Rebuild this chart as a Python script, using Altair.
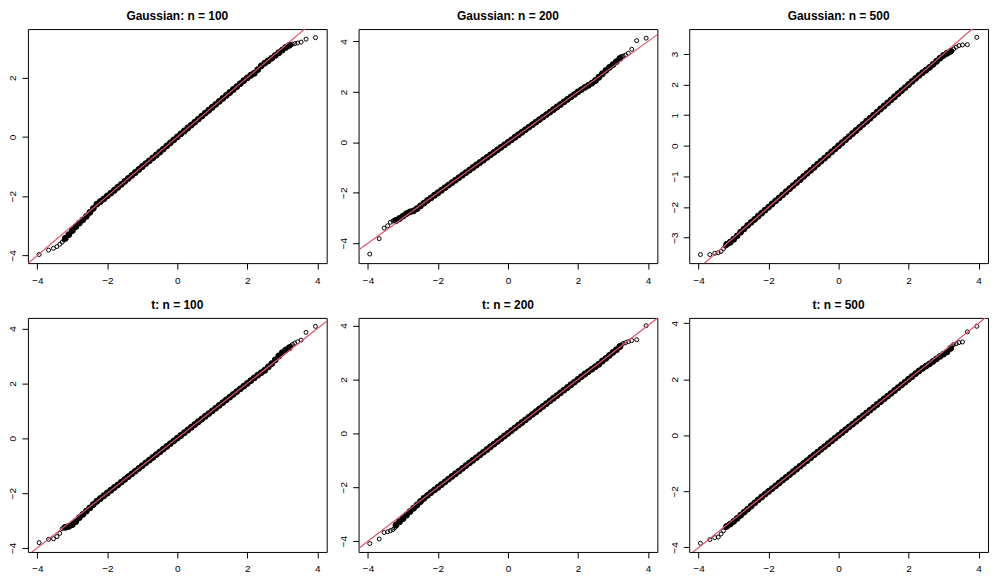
import altair as alt
import pandas as pd

# theoretical quantiles (shared x positions)
band_q = [-3.2, -3.1, -3.0, -2.9, -2.8, -2.7, -2.6, -2.5, -2.4, -2.3, -2.2, -2.1, -2.0,
          -1.9, -1.8, -1.7, -1.6, -1.5, -1.4, -1.3, -1.2, -1.1, -1.0,
          -0.9, -0.8, -0.7, -0.6, -0.5, -0.4, -0.3, -0.2, -0.1, 0.0,
          0.1, 0.2, 0.3, 0.4, 0.5, 0.6, 0.7, 0.8, 0.9,
          1.0, 1.1, 1.2, 1.3, 1.4, 1.5, 1.6, 1.7, 1.8, 1.9,
          2.0, 2.1, 2.2, 2.3, 2.4, 2.5, 2.6, 2.7, 2.8, 2.9, 3.0, 3.1, 3.2]
tail_lo_q = [-3.95, -3.68, -3.54, -3.44, -3.36, -3.29, -3.24]
tail_hi_q = [3.24, 3.29, 3.36, 3.44, 3.54, 3.68, 3.95]

titles = ["Gaussian: n = 100", "Gaussian: n = 200", "Gaussian: n = 500",
          "t: n = 100", "t: n = 200", "t: n = 500"]

# sample quantiles
g100_lo = [-3.97, -3.82, -3.76, -3.70, -3.62, -3.55, -3.48]
g100_band = [-3.42, -3.30, -3.16, -3.03, -2.91, -2.80, -2.68, -2.55, -2.41, -2.27, -2.18, -2.09, -1.99,
             -1.90, -1.80, -1.70, -1.60, -1.50, -1.40, -1.30, -1.20, -1.10, -1.00,
             -0.90, -0.81, -0.71, -0.61, -0.51, -0.41, -0.30, -0.20, -0.10, 0.00,
             0.10, 0.20, 0.30, 0.40, 0.50, 0.60, 0.70, 0.80, 0.90,
             1.00, 1.10, 1.20, 1.30, 1.40, 1.50, 1.60, 1.70, 1.80, 1.90,
             1.99, 2.08, 2.15, 2.27, 2.40, 2.49, 2.57, 2.66, 2.75, 2.84, 2.93, 3.02, 3.09]
g100_hi = [3.11, 3.13, 3.15, 3.17, 3.20, 3.30, 3.35]

g200_lo = [-4.43, -3.82, -3.40, -3.31, -3.17, -3.12, -3.08]
g200_band = [-3.10, -3.02, -2.93, -2.83, -2.76, -2.72, -2.63, -2.52, -2.41, -2.30, -2.20, -2.10, -2.00,
             -1.90, -1.80, -1.70, -1.60, -1.50, -1.40, -1.30, -1.20, -1.10, -1.00,
             -0.90, -0.80, -0.70, -0.60, -0.50, -0.40, -0.30, -0.20, -0.10, 0.00,
             0.10, 0.20, 0.30, 0.40, 0.50, 0.60, 0.70, 0.80, 0.90,
             1.00, 1.10, 1.20, 1.30, 1.40, 1.50, 1.60, 1.70, 1.80, 1.90,
             2.00, 2.09, 2.18, 2.26, 2.35, 2.45, 2.58, 2.72, 2.85, 2.97, 3.08, 3.20, 3.33]
g200_hi = [3.40, 3.42, 3.46, 3.53, 3.69, 4.03, 4.13]

g500_lo = [-3.55, -3.55, -3.51, -3.49, -3.45, -3.36, -3.28]
g500_band = [-3.22, -3.15, -3.05, -2.94, -2.82, -2.71, -2.60, -2.50, -2.40, -2.30, -2.20, -2.10, -2.00,
             -1.90, -1.80, -1.70, -1.60, -1.50, -1.40, -1.30, -1.20, -1.10, -1.00,
             -0.90, -0.80, -0.70, -0.60, -0.50, -0.40, -0.30, -0.20, -0.10, 0.00,
             0.10, 0.20, 0.30, 0.40, 0.50, 0.60, 0.70, 0.80, 0.90,
             1.00, 1.10, 1.20, 1.30, 1.40, 1.50, 1.60, 1.70, 1.80, 1.90,
             2.00, 2.10, 2.20, 2.30, 2.39, 2.47, 2.56, 2.66, 2.76, 2.86, 2.95, 3.02, 3.08]
g500_hi = [3.10, 3.16, 3.22, 3.27, 3.29, 3.30, 3.54]

t100_lo = [-3.81, -3.69, -3.67, -3.59, -3.47, -3.30, -3.27]
t100_band = [-3.25, -3.22, -3.15, -3.04, -2.90, -2.78, -2.66, -2.54, -2.42, -2.30, -2.20, -2.10, -2.00,
             -1.90, -1.80, -1.70, -1.60, -1.50, -1.40, -1.30, -1.20, -1.10, -1.00,
             -0.90, -0.80, -0.70, -0.60, -0.50, -0.40, -0.30, -0.20, -0.10, 0.00,
             0.10, 0.20, 0.30, 0.40, 0.50, 0.60, 0.70, 0.80, 0.90,
             1.00, 1.10, 1.20, 1.30, 1.40, 1.50, 1.60, 1.70, 1.80, 1.90,
             2.00, 2.10, 2.20, 2.30, 2.39, 2.48, 2.60, 2.72, 2.86, 3.00, 3.12, 3.22, 3.30]
t100_hi = [3.36, 3.42, 3.47, 3.52, 3.58, 3.86, 4.08]

t200_lo = [-4.09, -3.92, -3.68, -3.65, -3.61, -3.57, -3.51]
t200_band = [-3.40, -3.28, -3.16, -3.03, -2.90, -2.78, -2.66, -2.53, -2.41, -2.30, -2.20, -2.10, -2.00,
             -1.90, -1.80, -1.70, -1.60, -1.50, -1.40, -1.30, -1.20, -1.10, -1.00,
             -0.90, -0.80, -0.70, -0.60, -0.50, -0.40, -0.30, -0.20, -0.10, 0.00,
             0.10, 0.20, 0.30, 0.40, 0.50, 0.60, 0.70, 0.80, 0.90,
             1.00, 1.10, 1.20, 1.30, 1.40, 1.50, 1.60, 1.70, 1.80, 1.90,
             2.00, 2.10, 2.20, 2.29, 2.38, 2.47, 2.56, 2.68, 2.78, 2.89, 3.00, 3.10, 3.22]
t200_hi = [3.28, 3.33, 3.36, 3.40, 3.44, 3.47, 3.99]

t500_lo = [-3.85, -3.72, -3.65, -3.63, -3.52, -3.40, -3.30]
t500_band = [-3.25, -3.17, -3.07, -2.96, -2.85, -2.74, -2.63, -2.52, -2.41, -2.30, -2.20, -2.10, -2.00,
             -1.90, -1.80, -1.70, -1.60, -1.50, -1.40, -1.30, -1.20, -1.10, -1.00,
             -0.90, -0.80, -0.70, -0.60, -0.50, -0.40, -0.30, -0.20, -0.10, 0.00,
             0.10, 0.20, 0.30, 0.40, 0.50, 0.60, 0.70, 0.80, 0.90,
             1.00, 1.10, 1.20, 1.30, 1.40, 1.50, 1.60, 1.70, 1.80, 1.90,
             2.00, 2.10, 2.20, 2.30, 2.39, 2.47, 2.55, 2.64, 2.73, 2.82, 2.90, 2.98, 3.10]
t500_hi = [3.18, 3.24, 3.27, 3.31, 3.33, 3.69, 3.89]

x_ticks = [-4, -2, 0, 2, 4]
y_ticks = [[-4, -2, 0, 2], [-4, -2, 0, 2, 4], [-3, -2, -1, 0, 1, 2, 3],
           [-4, -2, 0, 2, 4], [-4, -2, 0, 2, 4], [-4, -2, 0, 2, 4]]
x_domain = [-4.27, 4.27]
y_domains = [[-4.26, 3.64], [-4.79, 4.49], [-3.83, 3.81],
             [-4.15, 4.39], [-4.40, 4.28], [-4.16, 4.19]]

# reference line y = intercept + slope * x
line_intercept = 0.0
line_slope = 1.0

LINE_RED = "#DF536B"
FONT = "Liberation Sans"
W, H = 300, 235

los = [g100_lo, g200_lo, g500_lo, t100_lo, t200_lo, t500_lo]
bands = [g100_band, g200_band, g500_band, t100_band, t200_band, t500_band]
his = [g100_hi, g200_hi, g500_hi, t100_hi, t200_hi, t500_hi]


def panel(i):
    assert len(bands[i]) == len(band_q)
    band_df = pd.DataFrame({"q": band_q, "s": bands[i]})
    tail_df = pd.DataFrame({"q": tail_lo_q + tail_hi_q, "s": los[i] + his[i]})
    line_df = pd.DataFrame({"q": x_domain,
                            "s": [line_intercept + line_slope * v for v in x_domain]})
    x = alt.X("q:Q", scale=alt.Scale(domain=x_domain, nice=False, zero=False),
              axis=alt.Axis(values=x_ticks, title=None, labelPadding=6))
    y = alt.Y("s:Q", scale=alt.Scale(domain=y_domains[i], nice=False, zero=False),
              axis=alt.Axis(values=y_ticks[i], title=None, labelAngle=270,
                            labelAlign="center", labelBaseline="bottom",
                            labelPadding=4))
    band = alt.Chart(band_df).mark_point(shape="circle", filled=True, size=32,
                                         fill="black", stroke="black", strokeWidth=1.2,
                                         opacity=1, clip=True).encode(x=x, y=y)
    tails = alt.Chart(tail_df).mark_point(shape="circle", filled=False, size=16,
                                          stroke="black", strokeWidth=1,
                                          opacity=1, clip=True).encode(x=x, y=y)
    line = alt.Chart(line_df).mark_line(color=LINE_RED, strokeWidth=1.2,
                                        clip=True).encode(x=x, y=y)
    return alt.layer(band, tails, line).properties(
        width=W, height=H, title=alt.TitleParams(titles[i]))


chart = alt.concat(
    *[panel(i) for i in range(6)], columns=3,
    spacing={"row": 55, "column": 32}, bounds="flush"
).resolve_scale(
    x="independent", y="independent"
).properties(
    padding={"left": -1, "top": 0, "right": 0, "bottom": 0}
).configure_view(
    stroke="black", strokeWidth=1
).configure_axis(
    domain=False, grid=False, ticks=True, tickColor="black", tickSize=6, tickWidth=1,
    labelFont=FONT, labelFontSize=10, labelColor="black"
).configure_title(
    font=FONT, fontSize=12, fontWeight="bold", color="black", anchor="middle", offset=6
)

chart.save("out.html", embed_options={"renderer": "svg", "actions": False})
